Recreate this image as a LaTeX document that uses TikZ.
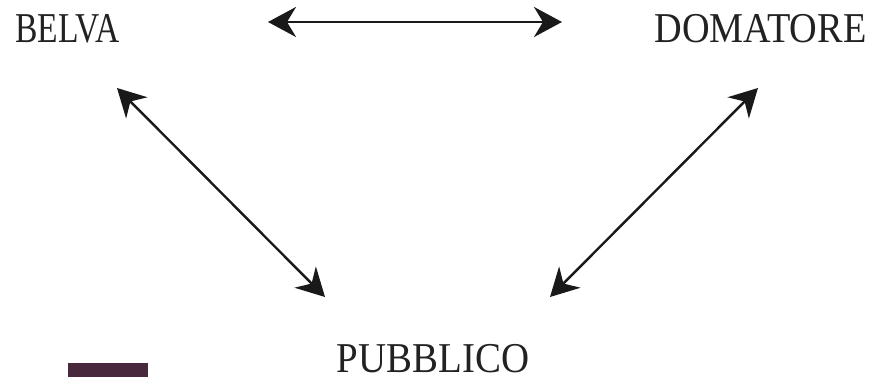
\documentclass[tikz,border=0pt]{standalone}
\usepackage{fontspec}
\setmainfont{Liberation Serif}
\usetikzlibrary{arrows.meta}
\definecolor{txt}{HTML}{222222}
\definecolor{plum}{HTML}{47283D}
\tikzset{
  lbl/.style={text=txt, inner sep=0pt, anchor=base, font=\fontsize{42.5}{42.5}\selectfont},
  dbl/.style={line width=2.4pt, draw=black!90, {Stealth[length=28pt,width=30pt,inset=9pt]}-{Stealth[length=28pt,width=30pt,inset=9pt]}}
}
\begin{document}
\begin{tikzpicture}[x=1pt,y=-1pt]
\useasboundingbox (0,0) rectangle (871,377);
\node[lbl] (belva) at (67.5,43) {\smash{\scalebox{0.79}[1]{BELVA}}};
\node[lbl] (doma) at (760.5,43) {\smash{\scalebox{0.9}[1]{DOMATORE}}};
\node[lbl] (pubb) at (433,372) {\smash{\scalebox{0.915}[1]{PUBBLICO}}};
\coordinate (t1) at (268,22);
\coordinate (t2) at (562,22);
\coordinate (l1) at (117,88);
\coordinate (l2) at (325,297);
\coordinate (r1) at (758,88);
\coordinate (r2) at (550,297);
\draw[dbl] (t1) -- (t2);
\draw[dbl] (l1) -- (l2);
\draw[dbl] (r1) -- (r2);
\fill[plum] (68,363) rectangle (148,377);
\end{tikzpicture}
\end{document}
